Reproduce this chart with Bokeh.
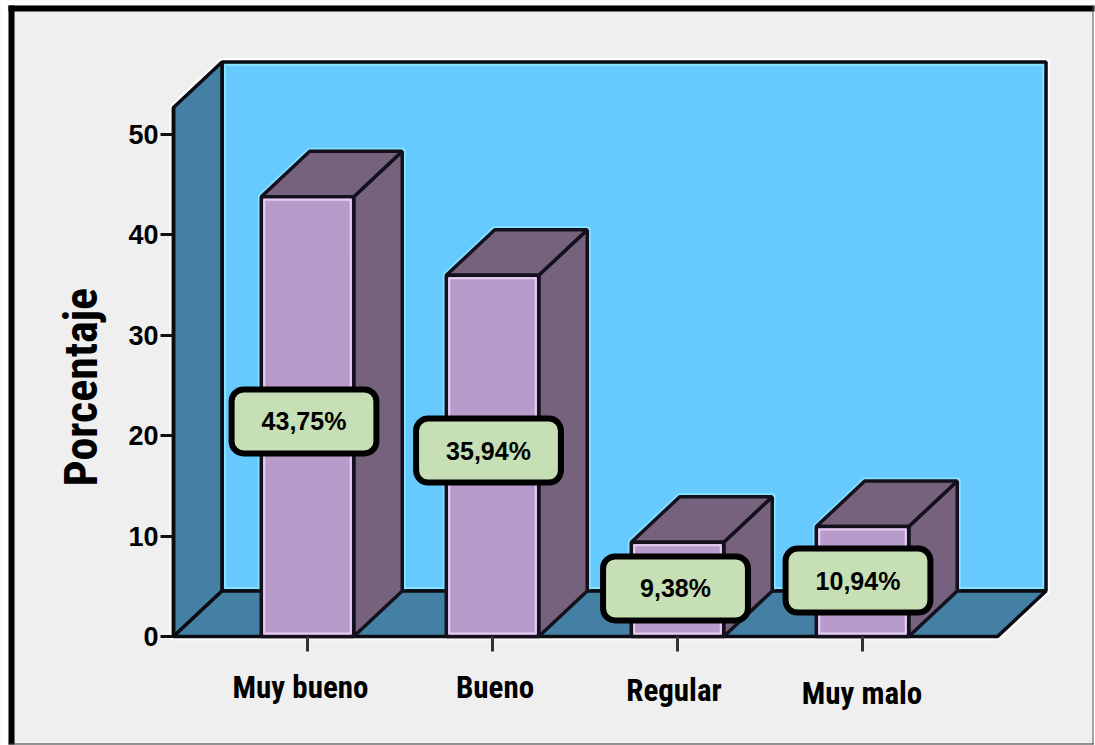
from bokeh.plotting import figure
from bokeh.models import Label, FixedTicker, BoxAnnotation, Range1d
from bokeh.embed import file_html
from bokeh.resources import INLINE

categories = ["Muy bueno", "Bueno", "Regular", "Muy malo"]
percentages = [43.75, 35.94, 9.38, 10.94]
y_ticks = [0, 10, 20, 30, 40, 50]

# style / layout constants
BG, WALL, SIDE, FRONT, DARK, BOX = "#EFEFEF", "#66CAFF", "#4380A3", "#B89ACB", "#76627C", "#C6DFB4"
HIGHLIGHT_WALL, HIGHLIGHT_BAR = "#86E2FF", "#E6CDF2"
INK = "#0B0B14"
FONT_NARROW = "Roboto Condensed"
FONT = "Liberation Sans"
W, H = 1095, 745
PX = 1 / 185.0     # x data units per pixel
PY = 1 / 10.05     # y data units per pixel
X_ORIGIN, Y_ORIGIN = 307, 636
DX, DY = 48.5 * PX, 45.5 * PY   # 3D depth
BAR_W = 0.5
X0 = (173 - X_ORIGIN) * PX
AXIS_TOP = 52.63
FLOOR_RIGHT = 3.73
LW = 3.5

p = figure(width=W, height=H, output_backend="svg", toolbar_location=None,
           x_range=Range1d(-X_ORIGIN * PX, (W - X_ORIGIN) * PX),
           y_range=Range1d((Y_ORIGIN - H) * PY, Y_ORIGIN * PY),
           min_border=0, background_fill_color=BG, border_fill_color=BG, outline_line_color=None)
p.grid.visible = False

# walls and floor
back_x = [X0 + DX, FLOOR_RIGHT + DX, FLOOR_RIGHT + DX, X0 + DX]
back_y = [DY, DY, AXIS_TOP + DY, AXIS_TOP + DY]
left_x = [X0, X0 + DX, X0 + DX, X0]
left_y = [0, DY, AXIS_TOP + DY, AXIS_TOP]
floor_x = [X0, X0 + DX, FLOOR_RIGHT + DX, FLOOR_RIGHT]
floor_y = [0, DY, DY, 0]

for xs, ys in ((back_x, back_y), (left_x, left_y), (floor_x, floor_y)):
    p.patch(xs, ys, fill_color=None, line_color="white", line_width=8, line_alpha=0.8, line_join="round")
p.patch(back_x, back_y, fill_color=WALL, line_color=INK, line_width=LW)
p.patch([back_x[0] + 3 * PX, back_x[1] - 3 * PX, back_x[2] - 3 * PX, back_x[3] + 3 * PX],
        [back_y[0] + 3 * PY, back_y[1] + 3 * PY, back_y[2] - 3 * PY, back_y[3] - 3 * PY],
        fill_color=None, line_color=HIGHLIGHT_WALL, line_width=2)
# light rim of each bar against the wall
for i, v in enumerate(percentages):
    l, r = i - BAR_W / 2, i + BAR_W / 2
    p.line([l, l, l + DX, r + DX, r + DX], [DY, v, v + DY, v + DY, DY],
           line_color=HIGHLIGHT_WALL, line_width=7, line_join="round")
p.patch(left_x, left_y, fill_color=SIDE, line_color=INK, line_width=LW)
p.patch(floor_x, floor_y, fill_color=SIDE, line_color=INK, line_width=LW)

# bars
for i, v in enumerate(percentages):
    l, r = i - BAR_W / 2, i + BAR_W / 2
    p.patch([r, r + DX, r + DX, r], [0, DY, v + DY, v], fill_color=DARK, line_color="#14101E", line_width=LW)
    p.patch([l, l + DX, r + DX, r], [v, v + DY, v + DY, v], fill_color=DARK, line_color="#14101E", line_width=LW)
    p.vbar(x=[i], top=[v], bottom=0, width=BAR_W, fill_color=FRONT, line_color="#14101E", line_width=LW)
    p.quad(left=[l + 3 * PX], right=[r - 3 * PX], top=[v - 3 * PY], bottom=[3 * PY],
           fill_color=None, line_color=HIGHLIGHT_BAR, line_width=2)

# axes, held inside the full-window frame
yax = p.yaxis[0]
yax.fixed_location = X0
yax.ticker = FixedTicker(ticks=y_ticks)
yax.bounds = (0, AXIS_TOP)
yax.axis_line_color = INK
yax.axis_line_width = LW
yax.major_tick_in = 0
yax.major_tick_out = 13
yax.major_tick_line_width = 3
yax.major_tick_line_color = "#111111"
yax.minor_tick_line_color = None
yax.major_label_standoff = 2
yax.major_label_text_font = FONT
yax.major_label_text_font_style = "bold"
yax.major_label_text_font_size = "27px"
yax.major_label_text_color = "black"

xax = p.xaxis[0]
xax.fixed_location = 0
xax.ticker = FixedTicker(ticks=list(range(len(categories))))
xax.axis_line_color = None
xax.major_tick_in = 0
xax.major_tick_out = 15
xax.major_tick_line_width = 3
xax.major_tick_line_color = "#333333"
xax.minor_tick_line_color = None
xax.major_label_text_color = None
xax.major_label_text_font_size = "0px"
xax.major_label_overrides = {i: "" for i in range(len(categories))}

# category labels (hand-placed text boxes in the original)
cat_dx = [-7, 2.5, -3.5, -0.5]
cat_dy = [-51, -51, -54, -57]
for i, name in enumerate(categories):
    p.add_layout(Label(x=i, y=0, x_offset=cat_dx[i], y_offset=cat_dy[i], text=name,
                       text_font=FONT_NARROW, text_font_style="bold", text_font_size="31px",
                       text_color="black", text_align="center", text_baseline="alphabetic"))

p.add_layout(Label(x=(80 - X_ORIGIN) * PX, y=24.8, text="Porcentaje", angle=90, angle_units="deg",
                   text_font=FONT_NARROW, text_font_style="bold", text_font_size="46px",
                   text_color="black", text_align="center", text_baseline="middle"))

# value boxes
box_dx = [-3.5, -4, -2, -4.5]
box_y = [21.4, 18.5, 4.78, 5.57]
box_pad = [30, 30, 37, 30]
for i, v in enumerate(percentages):
    p.add_layout(Label(x=i, y=box_y[i], x_offset=box_dx[i],
                       text=f"{v:.2f}".replace(".", ",") + "%",
                       text_font=FONT, text_font_style="bold", text_font_size="25px",
                       text_color="black", text_align="center", text_baseline="middle",
                       background_fill_color=BOX, border_line_color="black", border_line_width=6,
                       border_radius=12, padding=(box_pad[i], 18)))

# picture frame: white outside, heavy black top and left, thin right and bottom
for l, r, t, b, c in ((0, 8, 0, H, "white"), (0, W, 0, 5, "white"),
                      (1093, W, 0, H, "white"), (0, W, 744, H, "white"),
                      (8, 14, 5, 744, "black"), (8, 1094, 5, 11, "black"),
                      (1092, 1093, 5, 744, "#555555"), (8, 1093, 743, 744, "#333333")):
    p.add_layout(BoxAnnotation(left=l, right=r, top=t, bottom=b,
                               left_units="canvas", right_units="canvas",
                               top_units="canvas", bottom_units="canvas",
                               fill_color=c, fill_alpha=1, line_color=None, level="overlay"))

open("out.html", "w").write(file_html(p, INLINE))
